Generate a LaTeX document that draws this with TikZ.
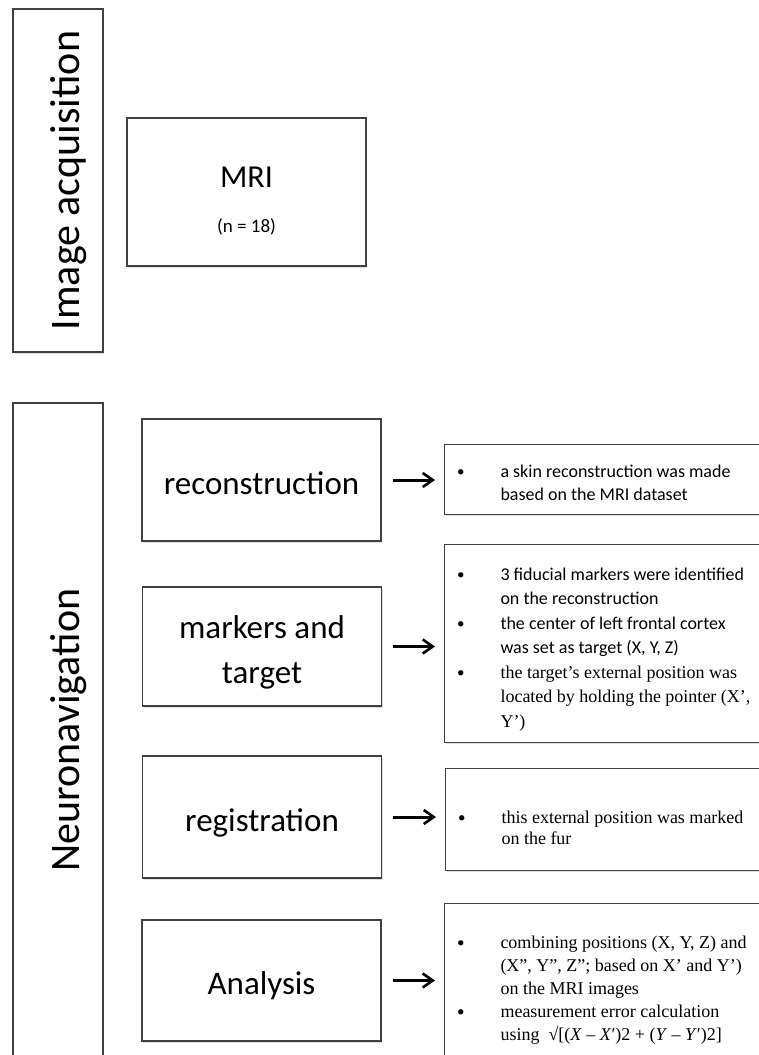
\documentclass[tikz,border=0pt]{standalone}
\usepackage{fontspec}
\setmainfont{Carlito}
\newfontfamily\timesfont{Liberation Serif}
\usepackage{tikz}
\usetikzlibrary{positioning, arrows.meta, shadows}

\definecolor{boxgray}{HTML}{404040}

% label set a little below the centre of its box
\newcommand{\lbl}[2][5pt]{\raisebox{-#1}[\height][\depth]{\begin{tabular}{@{}c@{}}#2\end{tabular}}}
% one bullet of a note
\newcommand{\bitem}{\par\noindent\llap{\makebox[43.5pt][l]{\rule{0pt}{15pt}\normalfont\raisebox{1pt}{\fontsize{15}{15}\selectfont\textbullet}}}}
\newcommand{\notelist}[1]{\begin{minipage}[t]{310pt}\raggedright\parskip=0pt\leftskip=43.5pt #1\end{minipage}}

\tikzset{
	boxline/.style={draw=boxgray, line width=1.2pt, fill=white, drop shadow={shadow xshift=1pt, shadow yshift=-1.5pt, opacity=0.25}},
	stagebox/.style={boxline, rotate=90, minimum height=90pt, inner sep=0pt, font=\fontsize{42}{50}\selectfont},
	stepbox/.style={boxline, minimum width=239pt, minimum height=121pt, inner sep=0pt, font=\fontsize{33}{45}\selectfont},
	notebox/.style={boxline, anchor=north west, minimum width=340pt, inner sep=0pt},
	notetext/.style={anchor=north west, inner sep=0pt, font=\fontsize{18}{23}\selectfont},
	link/.style={line width=3pt, -{Straight Barb[length=10pt, width=14pt, line width=2.6pt]}, shorten <=11pt, shorten >=9pt}
}

\begin{document}
\begin{tikzpicture}[x=1pt, y=-1pt]
	\useasboundingbox (0,0) rectangle (759,1055);
	\clip (0,0) rectangle (759,1055);
	% stages
	\node[stagebox, minimum width=343pt] (acq) at (58,180.5) {\lbl[11pt]{Image acquisition}};
	\node[stagebox, minimum width=654pt] (nav) at (58,730) {\lbl[11pt]{Neuronavigation}};
	% steps
	\node[stepbox, minimum height=148pt] (mri) at (246.5,192) {\lbl[9pt]{{\fontsize{32}{45}\selectfont MRI}\\{\fontsize{19}{20}\selectfont (n = 18)}}};
	\node[stepbox, minimum height=122pt] (recon) at (261.5,480) {\lbl{reconstruction}};
	\node[stepbox, minimum height=119pt] (mark) at (262,646.5) {\lbl{markers and\\target}};
	\node[stepbox, minimum height=122pt] (regis) at (262,817) {\lbl{registration}};
	\node[stepbox, minimum height=121pt] (anal) at (261.5,980.5) {\lbl{Analysis}};
	% notes
	\node[notebox, minimum height=70pt] (n1) at (444,444) {};
	\node[notebox, minimum height=198pt] (n2) at (444,544) {};
	\node[notebox, minimum height=102pt] (n3) at (445,768) {};
	\node[notebox, minimum height=167pt] (n4) at (444,903) {};
	\node[notetext] (t1) at (456.8,462.5) {\notelist{%
		\bitem a skin reconstruction was made\\based on the MRI dataset}};
	\node[notetext, font=\fontsize{18}{24.5}\selectfont] (t2) at (456.8,565) {\notelist{%
		\bitem 3 fiducial markers were identified\\on the reconstruction
		\bitem the center of left frontal cortex\\was set as target (X, Y, Z)
		\bitem{\timesfont the target’s external position was\\located by holding the pointer (X’,\\Y’)}}};
	\node[notetext, font=\fontsize{18}{20.7}\selectfont] (t3) at (457.8,808.3) {\notelist{\timesfont
		\bitem this external position was marked\\on the fur}};
	\node[notetext] (t4) at (456.8,933.3) {\notelist{\timesfont
		\bitem combining positions (X, Y, Z) and\\(X”, Y”, Z”; based on X’ and Y’)\\on the MRI images
		\bitem measurement error calculation\\using\ \ √[(\textit{X} – \textit{X}′)2 + (\textit{Y} – \textit{Y}′)2]}};
	% arrows
	\draw[link] (recon.east) -- (recon.east -| n1.west);
	\draw[link] (mark.east) -- (mark.east -| n2.west);
	\draw[link] (regis.east) -- (regis.east -| n3.west);
	\draw[link] (anal.east) -- (anal.east -| n4.west);
\end{tikzpicture}
\end{document}
